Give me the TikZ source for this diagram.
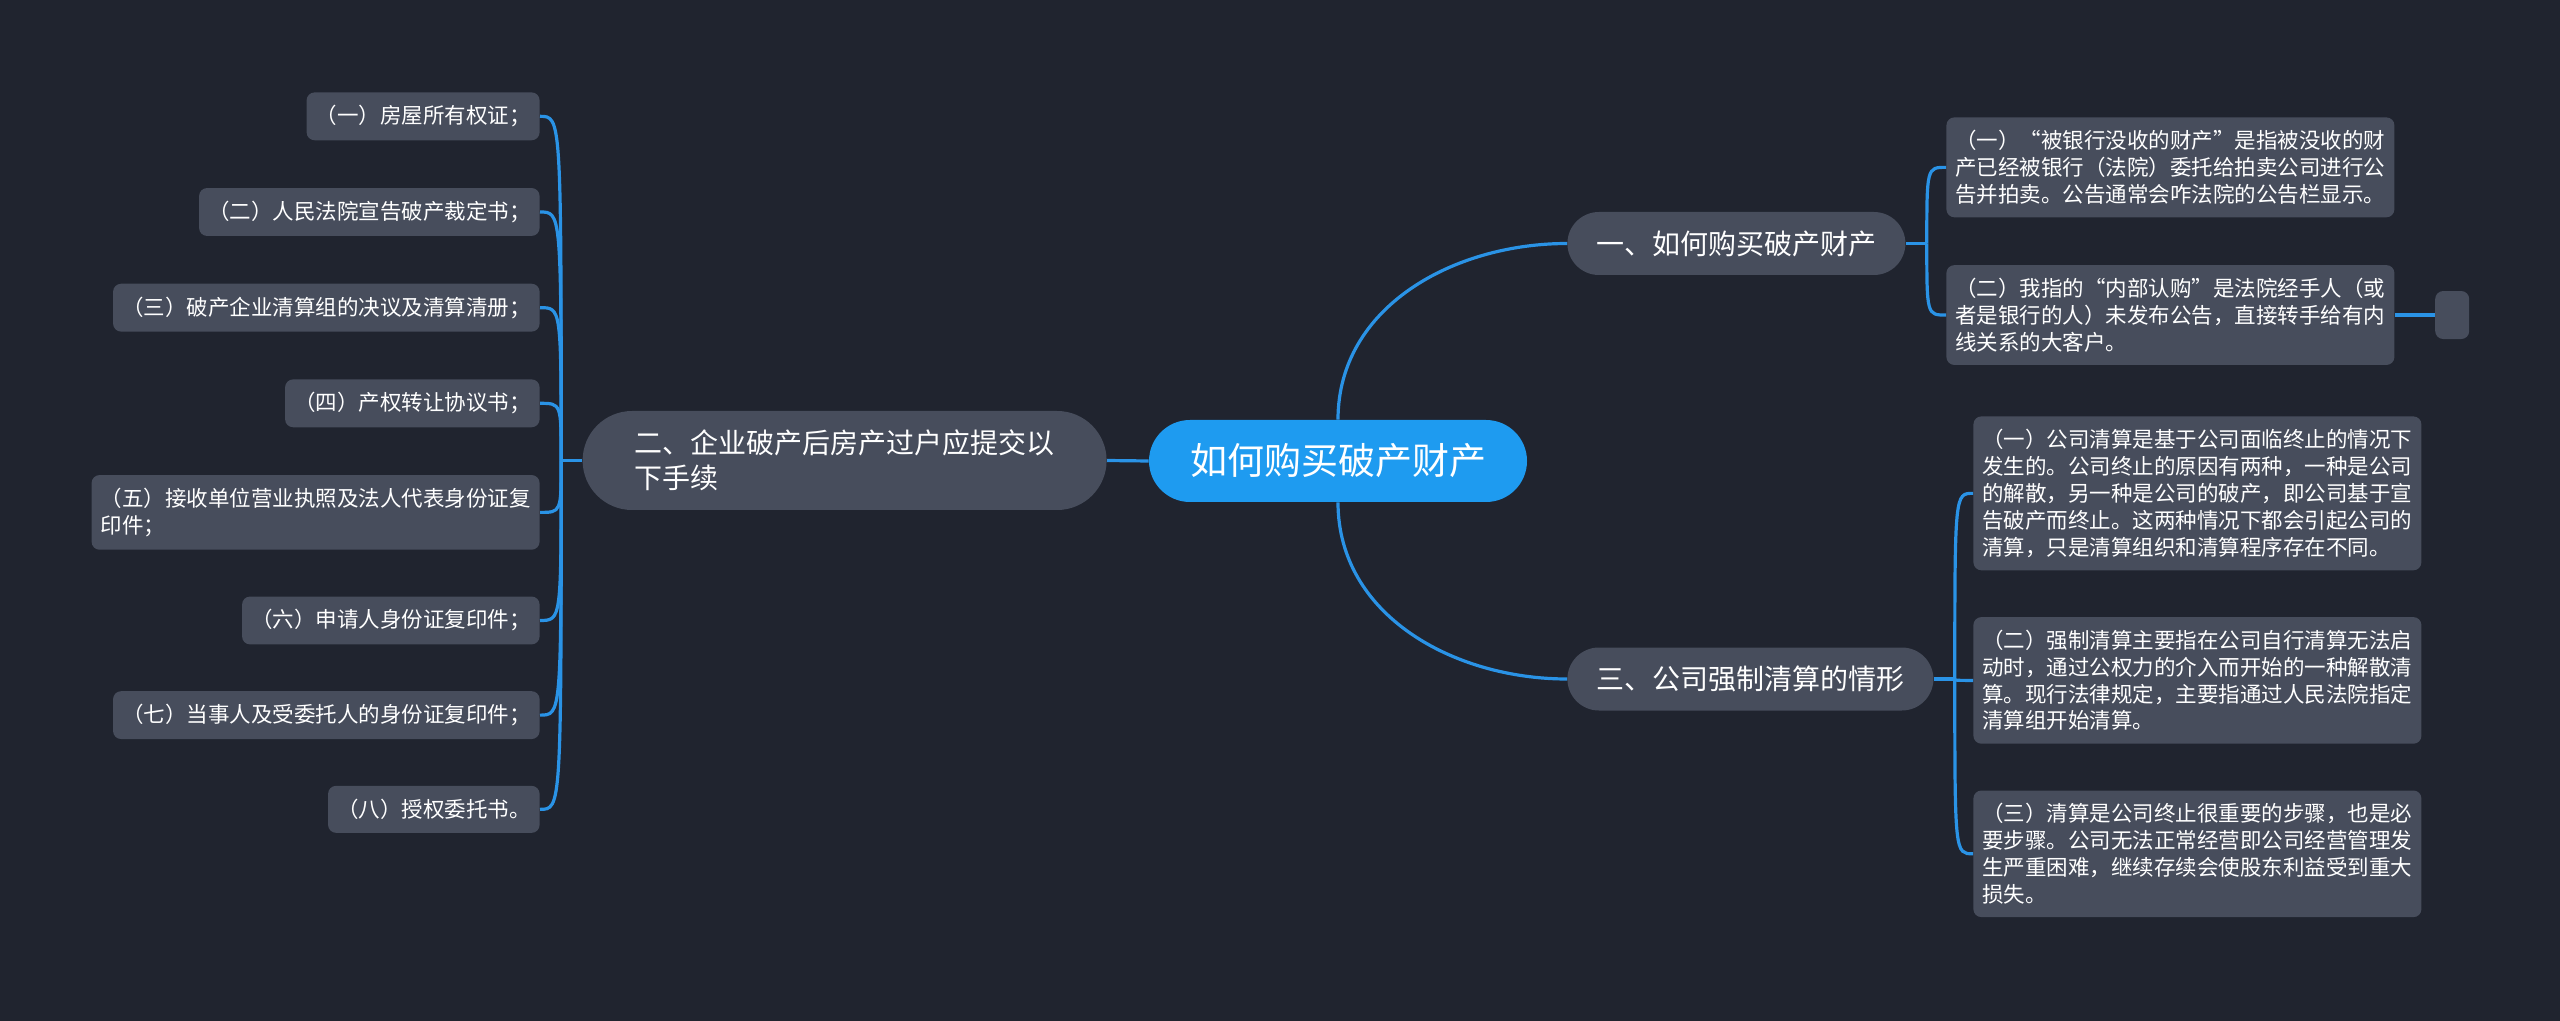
\documentclass[tikz,border=0pt]{standalone}
\usepackage{fontspec}
\setmainfont{Noto Sans CJK SC}
\usetikzlibrary{positioning}

\definecolor{bgnavy}{HTML}{20242F}
\definecolor{boxgray}{HTML}{474D5C}
\definecolor{rootblue}{HTML}{1E9BF0}
\definecolor{linkblue}{HTML}{2A93E6}

\tikzset{
  rootbox/.style={fill=rootblue, text=white, rounded corners=20.5pt, minimum height=41pt,
    inner xsep=20.5pt, font=\fontsize{18.5}{22}\selectfont},
  mainbox/.style={fill=boxgray, text=white, rounded corners=15.75pt, minimum height=31.5pt,
    inner xsep=14.5pt, font=\fontsize{14}{17.5}\selectfont},
  wordbox/.style={fill=boxgray, text=white, rounded corners=4pt, minimum height=23.5pt,
    inner xsep=4.5pt, inner ysep=6.5pt, align=left, font=\fontsize{10.75}{13.4}\selectfont},
  link/.style={draw=linkblue, line width=1.6pt},
}

\begin{document}
\begin{tikzpicture}[x=0.5pt, y=-0.5pt]
    \useasboundingbox[fill=bgnavy] (0,0) rectangle (2560,1021);

    % centre and first level
    \node[rootbox] (root) at (1338,461) {如何购买破产财产};
    \node[mainbox, anchor=west] (M1) at (1567,243.5) {一、如何购买破产财产};
    \node[mainbox, anchor=west] (M3) at (1567,679) {三、公司强制清算的情形};
    \node[mainbox, anchor=east, align=left, rounded corners=24.75pt, minimum height=49.5pt,
      inner xsep=26pt] (M2) at (1107,460.5) {二、企业破产后房产过户应提交以\\下手续};

    % left leaves
    \node[wordbox, anchor=north east] (L1) at (540,92) {（一）房屋所有权证；};
    \node[wordbox, below left=23.5pt and 0pt of L1.south east] (L2) {（二）人民法院宣告破产裁定书；};
    \node[wordbox, below left=23.5pt and 0pt of L2.south east] (L3) {（三）破产企业清算组的决议及清算清册；};
    \node[wordbox, below left=23.5pt and 0pt of L3.south east] (L4) {（四）产权转让协议书；};
    \node[wordbox, below left=23.5pt and 0pt of L4.south east] (L5) {（五）接收单位营业执照及法人代表身份证复\\印件；};
    \node[wordbox, below left=23pt and 0pt of L5.south east] (L6) {（六）申请人身份证复印件；};
    \node[wordbox, below left=23pt and 0pt of L6.south east] (L7) {（七）当事人及受委托人的身份证复印件；};
    \node[wordbox, below left=23pt and 0pt of L7.south east] (L8) {（八）授权委托书。};

    % right leaves
    \node[wordbox, anchor=north west] (S1a) at (1946,117)
      {（一）“被银行没收的财产”是指被没收的财\\产已经被银行（法院）委托给拍卖公司进行公\\告并拍卖。公告通常会咋法院的公告栏显示。};
    \node[wordbox, below right=23.5pt and 0pt of S1a.south west] (S1b)
      {（二）我指的“内部认购”是法院经手人（或\\者是银行的人）未发布公告，直接转手给有内\\线关系的大客户。};
    \node[wordbox, minimum width=17pt, minimum height=24pt, inner sep=0pt, right=20pt of S1b] (S1x) {};

    \node[wordbox, anchor=north west] (S3a) at (1973,416)
      {（一）公司清算是基于公司面临终止的情况下\\发生的。公司终止的原因有两种，一种是公司\\的解散，另一种是公司的破产，即公司基于宣\\告破产而终止。这两种情况下都会引起公司的\\清算，只是清算组织和清算程序存在不同。};
    \node[wordbox, below right=23pt and 0pt of S3a.south west] (S3b)
      {（二）强制清算主要指在公司自行清算无法启\\动时，通过公权力的介入而开始的一种解散清\\算。现行法律规定，主要指通过人民法院指定\\清算组开始清算。};
    \node[wordbox, below right=23pt and 0pt of S3b.south west] (S3c)
      {（三）清算是公司终止很重要的步骤，也是必\\要步骤。公司无法正常经营即公司经营管理发\\生严重困难，继续存续会使股东利益受到重大\\损失。};

    % hubs
    \coordinate[left=10.5pt of M2.west] (h2);
    \coordinate[right=10.5pt of M1.east] (h1);
    \coordinate[right=10.5pt of M3.east] (h3);

    % connectors
    \draw[link] (root.west) -- (M2.east);
    \draw[link] (root.north) to[out=90, in=180] (M1.west);
    \draw[link] (root.south) to[out=-90, in=180] (M3.west);

    \draw[link] (M2.west) -- (h2);
    \foreach \l in {L1,L2,L3,L4,L5,L6,L7,L8}
      \draw[link] (h2) .. controls (h2 |- \l.east) .. (\l.east);

    \draw[link] (M1.east) -- (h1);
    \foreach \s in {S1a,S1b}
      \draw[link] (h1) .. controls (h1 |- \s.west) .. (\s.west);
    \draw[link] (S1b.east) -- (S1x.west);

    \draw[link] (M3.east) -- (h3);
    \foreach \s in {S3a,S3b,S3c}
      \draw[link] (h3) .. controls (h3 |- \s.west) .. (\s.west);
\end{tikzpicture}
\end{document}
